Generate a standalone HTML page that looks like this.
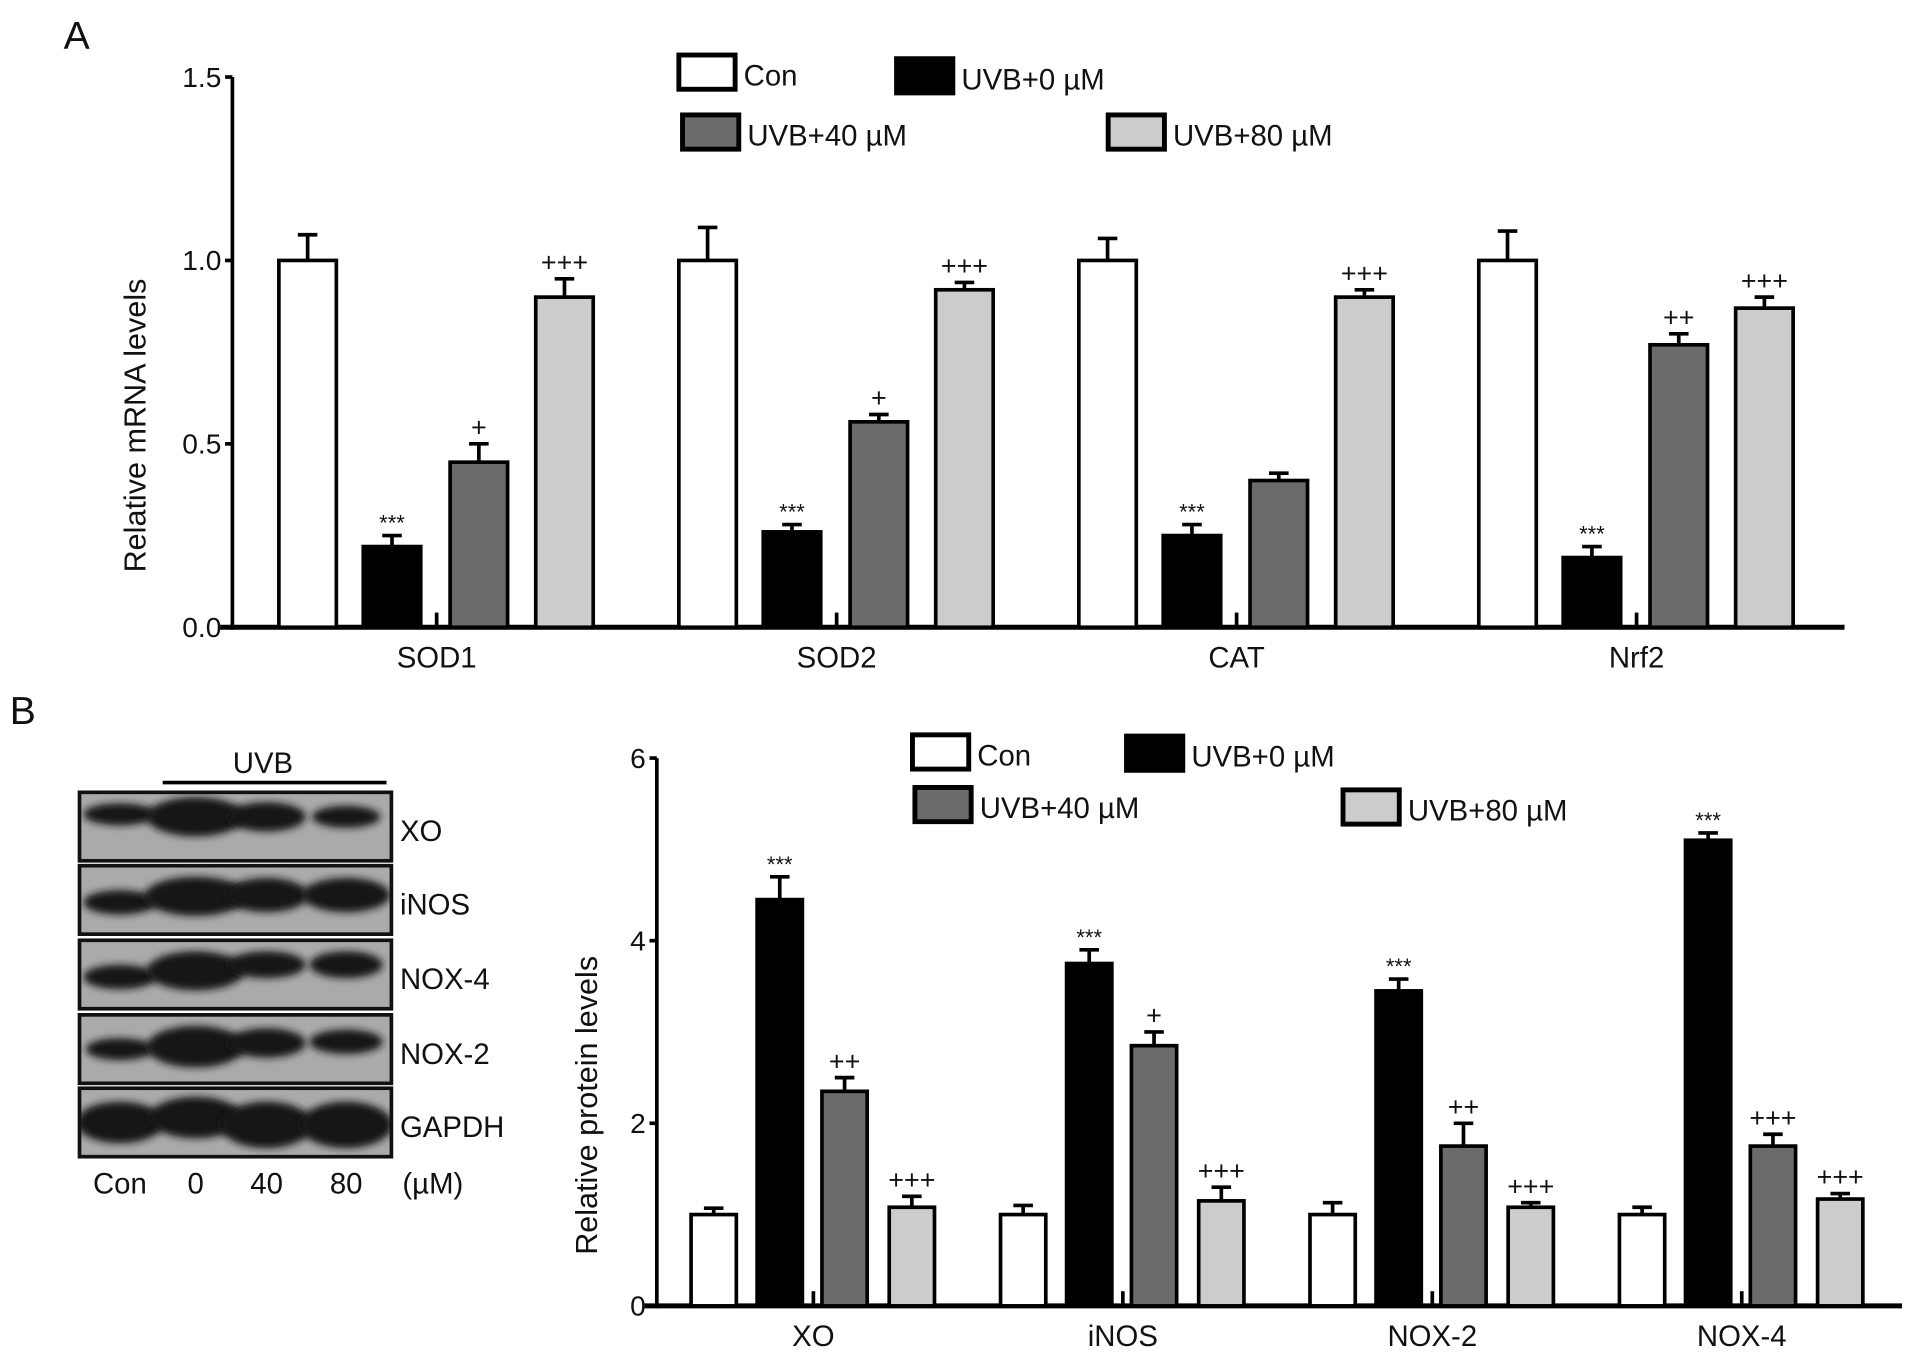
<!DOCTYPE html>
<html><head><meta charset="utf-8">
<style>
html,body{margin:0;padding:0;background:#fff;}
svg{display:block;}
text{font-family:"Liberation Sans",sans-serif;fill:#111;}
</style></head>
<body>
<svg id="fig" width="1913" height="1356" viewBox="0 0 1564 1109" preserveAspectRatio="none" xmlns="http://www.w3.org/2000/svg">
<defs><filter id="blur" x="-20%" y="-50%" width="140%" height="200%"><feGaussianBlur stdDeviation="3"/></filter></defs>
<text x="52" y="40" font-size="32">A</text>
<text x="8" y="592" font-size="32">B</text>
<g id="chartA"></g>
<g id="chartB"></g>
<g id="blot"></g>
</svg>
<script>
const NS="http://www.w3.org/2000/svg";
const catsA=["SOD1","SOD2","CAT","Nrf2"];
const conA=[1.0,1.0,1.0,1.0];
const conAErr=[0.07,0.09,0.06,0.08];
const uvb0A=[0.22,0.26,0.25,0.19];
const uvb0AErr=[0.03,0.02,0.03,0.03];
const uvb40A=[0.45,0.56,0.40,0.77];
const uvb40AErr=[0.05,0.02,0.02,0.03];
const uvb80A=[0.90,0.92,0.90,0.87];
const uvb80AErr=[0.05,0.02,0.02,0.03];
const sig0A=["***","***","***","***"];
const sig40A=["+","+","","++"];
const sig80A=["+++","+++","+++","+++"];
const ticksA=[0,0.5,1.0,1.5];
const tickLabelsA=["0.0","0.5","1.0","1.5"];

const catsB=["XO","iNOS","NOX-2","NOX-4"];
const conB=[1.0,1.0,1.0,1.0];
const conBErr=[0.07,0.1,0.13,0.08];
const uvb0B=[4.45,3.75,3.45,5.1];
const uvb0BErr=[0.25,0.15,0.13,0.08];
const uvb40B=[2.35,2.85,1.75,1.75];
const uvb40BErr=[0.15,0.15,0.25,0.13];
const uvb80B=[1.08,1.15,1.08,1.17];
const uvb80BErr=[0.12,0.15,0.05,0.06];
const sig0B=["***","***","***","***"];
const sig40B=["++","+","++","+++"];
const sig80B=["+++","+++","+++","+++"];
const ticksB=[0,2,4,6];
const tickLabelsB=["0","2","4","6"];

const seriesNames=["Con","UVB+0 µM","UVB+40 µM","UVB+80 µM"];
const fills=["#ffffff","#000000","#6b6b6b","#cccccc"];

function mk(parent,tag,attrs,txt){const e=document.createElementNS(NS,tag);for(const k in attrs)e.setAttribute(k,attrs[k]);if(txt!==undefined)e.textContent=txt;parent.appendChild(e);return e;}

function drawChart(g,cfg){
  const y=v=>cfg.y0-(v/cfg.max)*(cfg.y0-cfg.yTop);
  const ya=mk(g,"line",{x1:cfg.axX,y1:cfg.yTop,x2:cfg.axX,y2:cfg.y0+2,stroke:"#000","stroke-width":3});
  
  
  const xa=mk(g,"line",{x1:cfg.axX-10,y1:cfg.y0,x2:cfg.xEnd,y2:cfg.y0,stroke:"#000","stroke-width":4});
  
  
  cfg.ticks.forEach((t,i)=>{
    const tk=mk(g,"line",{x1:cfg.axX-6,y1:y(t),x2:cfg.axX,y2:y(t),stroke:"#000","stroke-width":3});
    
    
    const tl=mk(g,"text",{x:cfg.axX-9,y:y(t)+8,"font-size":23,"text-anchor":"end"},cfg.tickLabels[i]);
    
    
  });
  const cy=(cfg.y0+cfg.yTop)/2+60;
  const yt=mk(g,"text",{x:cfg.titleX,y:cy,"font-size":25,"text-anchor":"middle",transform:`rotate(-90 ${cfg.titleX} ${cy})`},cfg.title);
  
  
  const series=[cfg.s0,cfg.s1,cfg.s2,cfg.s3];
  const errs=[cfg.e0,cfg.e1,cfg.e2,cfg.e3];
  const sigs=[null,cfg.g1,cfg.g2,cfg.g3];
  cfg.cats.forEach((c,ci)=>{
    const gx=cfg.x0+ci*cfg.gap;
    series.forEach((s,si)=>{
      const bx=gx+cfg.offs[si], v=s[ci], top=y(v), et=y(v+errs[si][ci]);
      const el=mk(g,"line",{x1:bx+cfg.bw/2,y1:top,x2:bx+cfg.bw/2,y2:et,stroke:"#000","stroke-width":3});
      
      
      const ec=mk(g,"line",{x1:bx+cfg.bw/2-8,y1:et,x2:bx+cfg.bw/2+8,y2:et,stroke:"#000","stroke-width":3});
      
      
      const r=mk(g,"rect",{x:bx,y:top,width:cfg.bw,height:cfg.y0-top,fill:fills[si],stroke:"#000","stroke-width":3});
      
      
      if(sigs[si]&&sigs[si][ci]){
        const st=sigs[si][ci];
        const isStar=st[0]==="*";
        const t=mk(g,"text",{x:bx+cfg.bw/2,y:et-(isStar?4:6),"font-size":isStar?18:22,"text-anchor":"middle"},st);
        
        
      }
    });
    const tick=mk(g,"line",{x1:gx+cfg.midTick,y1:cfg.y0-12,x2:gx+cfg.midTick,y2:cfg.y0,stroke:"#000","stroke-width":3});
    
    
    const xl=mk(g,"text",{x:gx+cfg.midTick,y:cfg.y0+33,"font-size":24,"text-anchor":"middle"},c);
    
    
  });
  cfg.legend.forEach((L,i)=>{
    const lr=mk(g,"rect",{x:L[0],y:L[1],width:46,height:28,fill:fills[i],stroke:"#000","stroke-width":4});
    
    
    const lt=mk(g,"text",{x:L[0]+53,y:L[1]+25,"font-size":24},seriesNames[i]);
    
    
  });
}

drawChart(document.getElementById("chartA"),{
  cats:catsA,s0:conA,s1:uvb0A,s2:uvb40A,s3:uvb80A,e0:conAErr,e1:uvb0AErr,e2:uvb40AErr,e3:uvb80AErr,
  g1:sig0A,g2:sig40A,g3:sig80A,ticks:ticksA,tickLabels:tickLabelsA,max:1.5,
  y0:513,yTop:63,axX:190,xEnd:1508,x0:228,gap:327,bw:47,offs:[0,69,140,210],midTick:129,
  titleX:119,title:"Relative mRNA levels",
  legend:[[555,45],[733,48],[558,94],[906,94]]
});
drawChart(document.getElementById("chartB"),{
  cats:catsB,s0:conB,s1:uvb0B,s2:uvb40B,s3:uvb80B,e0:conBErr,e1:uvb0BErr,e2:uvb40BErr,e3:uvb80BErr,
  g1:sig0B,g2:sig40B,g3:sig80B,ticks:ticksB,tickLabels:tickLabelsB,max:6,
  y0:1068,yTop:620,axX:537,xEnd:1555,x0:565,gap:253,bw:37,offs:[0,54,107,162],midTick:100,
  titleX:488,title:"Relative protein levels",
  legend:[[746,601],[921,602],[748,644],[1098,646]]
});

const blotRows=["XO","iNOS","NOX-4","NOX-2","GAPDH"];
const blotTops=[648,708,769,830,890];
const lanes=[98,160,218,283];
const bandW=[[30,40,32,28],[30,42,34,36],[30,40,32,30],[28,40,32,30],[36,38,38,38]];
const bandH=[[9,16,12,9],[10,16,14,14],[10,16,11,11],[9,17,12,10],[17,17,19,19]];
const bandY=[[18,20,20,20],[30,25,24,24],[30,25,20,20],[28,26,23,22],[28,24,30,30]];
const blot=document.getElementById("blot");
const defs=document.querySelector("defs");
blotRows.forEach((n,ri)=>{
  const t=blotTops[ri];
  const cp=mk(defs,"clipPath",{id:"clip"+ri});
  mk(cp,"rect",{x:65,y:t,width:255,height:56});
  const p=mk(blot,"rect",{x:65,y:t,width:255,height:56,fill:"#aaaaaa"});
  
  
  const bg=mk(blot,"g",{"clip-path":"url(#clip"+ri+")"});
  
  
  lanes.forEach((lx,li)=>{
    const b=mk(bg,"ellipse",{cx:lx,cy:t+bandY[ri][li],rx:bandW[ri][li],ry:bandH[ri][li],fill:"#151515",filter:"url(#blur)"});
    
    
  });
  const fr=mk(blot,"rect",{x:65,y:t,width:255,height:56,fill:"none",stroke:"#111","stroke-width":3});
  
  
  const l=mk(blot,"text",{x:327,y:t+40,"font-size":24},n);
  
  
});
const laneLabels=["Con","0","40","80"];
laneLabels.forEach((s,i)=>{
  const l=mk(blot,"text",{x:lanes[i],y:976,"font-size":24,"text-anchor":"middle"},s);
  
  
});
const um=mk(blot,"text",{x:329,y:976,"font-size":24},"(µM)");


const uvbT=mk(blot,"text",{x:215,y:632,"font-size":24,"text-anchor":"middle"},"UVB");


const uvbL=mk(blot,"line",{x1:133,y1:640,x2:316,y2:640,stroke:"#000","stroke-width":3});


</script>
</body></html>
